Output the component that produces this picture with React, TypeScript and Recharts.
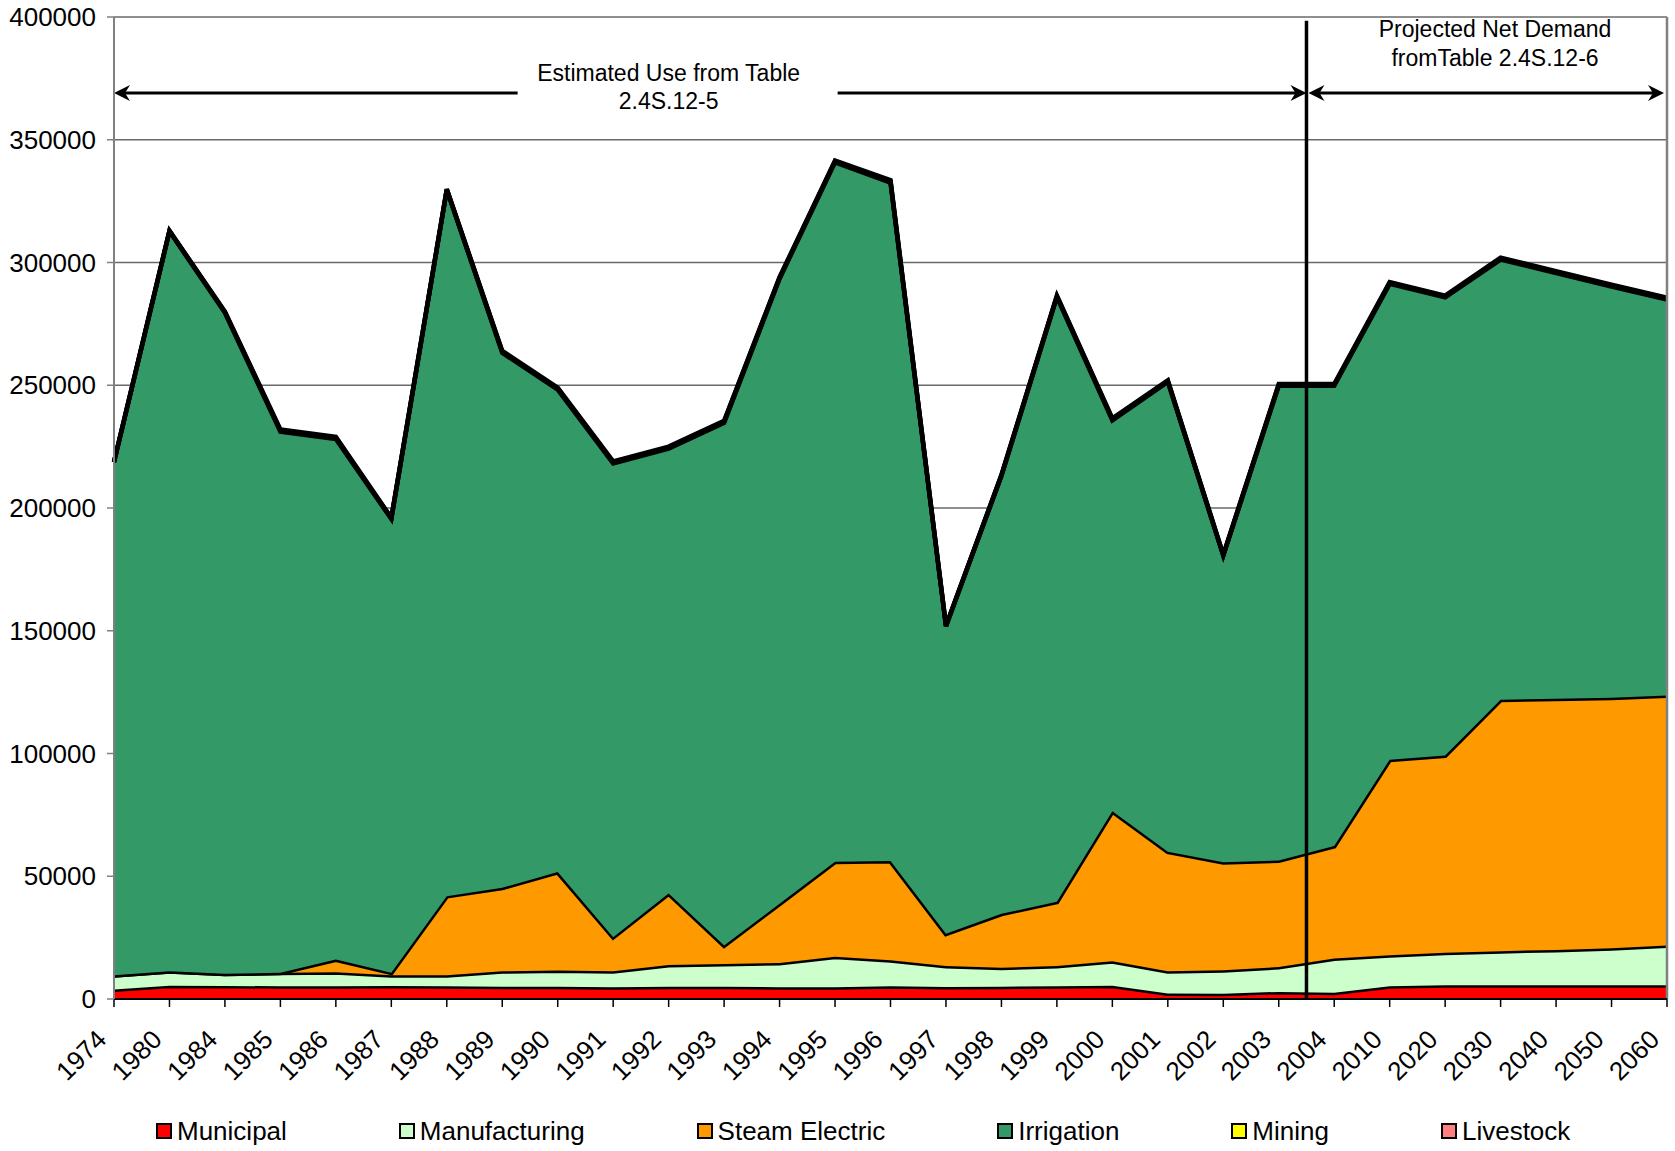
import { AreaChart, Area, XAxis, YAxis, CartesianGrid, ReferenceLine, Legend } from "recharts"

const years = [
  "1974", "1980", "1984", "1985", "1986", "1987", "1988", "1989", "1990", "1991",
  "1992", "1993", "1994", "1995", "1996", "1997", "1998", "1999", "2000", "2001",
  "2002", "2003", "2004", "2010", "2020", "2030", "2040", "2050", "2060",
]

const municipal = [
  3900, 5400, 5300, 5200, 5200, 5300, 5200, 5000, 5000, 4800,
  5000, 5000, 4800, 4800, 5200, 4900, 5000, 5200, 5400, 2200,
  2100, 2900, 2500, 5200, 5600, 5600, 5600, 5600, 5600,
]
const manufacturing = [
  5800, 5900, 5000, 5500, 5700, 4400, 4500, 6300, 6600, 6500,
  8800, 9300, 9900, 12400, 10600, 8500, 7700, 8200, 10000, 9100,
  9600, 10100, 14000, 12600, 13200, 13900, 14400, 15100, 16200,
]
const steamElectric = [
  0, 0, 0, 0, 5200, 1000, 32200, 34000, 40100, 13900,
  29200, 7500, 24100, 38700, 40400, 13200, 22000, 26200, 61100, 48700,
  44000, 43400, 45800, 79700, 80400, 102400, 102300, 102000, 101800,
]
const irrigation = [
  208900, 301400, 269200, 220400, 212000, 184800, 287700, 217900, 196500, 193000,
  181200, 212900, 254600, 284900, 276300, 125200, 178300, 246300, 159200, 191400,
  124900, 193400, 187500, 193800, 186600, 179300, 173400, 167500, 161300,
]
const mining = [
  100, 100, 300, 500, 500, 300, 100, 500, 500, 500,
  500, 500, 400, 400, 500, 100, 300, 400, 500, 300,
  200, 400, 400, 400, 400, 500, 500, 500, 500,
]
const livestock = [
  100, 200, 200, 400, 400, 200, 200, 300, 300, 300,
  300, 300, 200, 300, 500, 100, 200, 200, 300, 300,
  200, 300, 300, 300, 300, 300, 300, 300, 300,
]

const yTicks = [0, 50000, 100000, 150000, 200000, 250000, 300000, 350000, 400000]

const series = [
  { key: "Municipal", color: "#FF0000" },
  { key: "Manufacturing", color: "#CCFFCC" },
  { key: "Steam Electric", color: "#FF9900" },
  { key: "Irrigation", color: "#339966" },
  { key: "Mining", color: "#FFFF00" },
  { key: "Livestock", color: "#FF8080" },
]

const data = years.map((year, i) => ({
  year,
  Municipal: municipal[i],
  Manufacturing: manufacturing[i],
  "Steam Electric": steamElectric[i],
  Irrigation: irrigation[i],
  Mining: mining[i],
  Livestock: livestock[i],
}))

// annotation positions, in category index units
const lastIdx = years.length - 1
const divider = 21.5
const arrowY = 369000
const leftText = ["Estimated Use from Table", "2.4S.12-5"]
const leftTextAt = 10
const rightText = ["Projected Net Demand", "fromTable 2.4S.12-6"]
const rightTextAt = 24.9

const FONT = "'Liberation Sans', Arial, sans-serif"

function head(x: number, y: number, dir: number) {
  return `M${x} ${y} L${x + dir * 16} ${y - 8} L${x + dir * 11} ${y} L${x + dir * 16} ${y + 8} Z`
}

function leftArrow(props: any) {
  const { x1, x2, y1 } = props
  const unit = (x2 - x1) / divider
  const cx = x1 + leftTextAt * unit
  return (
    <g>
      <line x1={x1 + 4} y1={y1} x2={cx - 151} y2={y1} stroke="#000" strokeWidth={3} />
      <line x1={cx + 169} y1={y1} x2={x2 - 4} y2={y1} stroke="#000" strokeWidth={3} />
      <path d={head(x1, y1, 1)} fill="#000" />
      <path d={head(x2, y1, -1)} fill="#000" />
      <text x={cx} y={y1 - 12} textAnchor="middle" fontSize={23} fontFamily={FONT} fill="#000">{leftText[0]}</text>
      <text x={cx} y={y1 + 16} textAnchor="middle" fontSize={23} fontFamily={FONT} fill="#000">{leftText[1]}</text>
    </g>
  )
}

function rightArrow(props: any) {
  const { x1, x2, y1 } = props
  const unit = (x2 - x1) / (lastIdx - divider)
  const cx = x1 + (rightTextAt - divider) * unit
  return (
    <g>
      <line x1={x1 + 6} y1={y1} x2={x2 - 8} y2={y1} stroke="#000" strokeWidth={3} />
      <path d={head(x1 + 2, y1, 1)} fill="#000" />
      <path d={head(x2 - 3, y1, -1)} fill="#000" />
      <text x={cx} y={y1 - 56} textAnchor="middle" fontSize={23} fontFamily={FONT} fill="#000">{rightText[0]}</text>
      <text x={cx} y={y1 - 27} textAnchor="middle" fontSize={23} fontFamily={FONT} fill="#000">{rightText[1]}</text>
    </g>
  )
}

function XTick(props: any) {
  const { x, y, payload } = props
  const ax = x - 6
  const ay = y + 32
  return (
    <text x={ax} y={ay} transform={`rotate(-45 ${ax} ${ay})`} textAnchor="end" fontSize={26} fontFamily={FONT} fill="#000">
      {payload.value}
    </text>
  )
}

function LegendBox() {
  return (
    <div style={{ display: "flex", alignItems: "center", height: 36, paddingLeft: 156, fontFamily: FONT, fontSize: 26 }}>
      {series.map((s) => (
        <div key={s.key} style={{ display: "flex", alignItems: "center", marginRight: 112 }}>
          <span style={{ width: 12, height: 12, border: "2.5px solid #000", background: s.color, display: "inline-block" }} />
          <span style={{ marginLeft: 5, color: "#000", whiteSpace: "nowrap" }}>{s.key}</span>
        </div>
      ))}
    </div>
  )
}

export default function App() {
  return (
    <div style={{ position: "absolute", left: 0, top: 0, width: 1675, height: 1151, background: "#fff" }}>
      <AreaChart width={1675} height={1151} data={data} margin={{ top: 17, right: 8, bottom: 0, left: 0 }}>
        <CartesianGrid vertical={false} stroke="#6a6a6a" strokeWidth={1.5} />
        <XAxis
          dataKey="year"
          height={116}
          interval={0}
          tick={<XTick />}
          tickSize={8}
          axisLine={{ stroke: "#000", strokeWidth: 2 }}
          tickLine={{ stroke: "#000", strokeWidth: 1.5 }}
        />
        <XAxis xAxisId="n" type="number" domain={[0, lastIdx]} hide />
        <YAxis
          width={114}
          domain={[0, 400000]}
          ticks={yTicks}
          interval={0}
          tickSize={7}
          tickMargin={11}
          tick={{ fontSize: 26, fontFamily: FONT, fill: "#000" }}
          axisLine={{ stroke: "#808080", strokeWidth: 2 }}
          tickLine={{ stroke: "#808080", strokeWidth: 1.5 }}
        />
        {series.map((s) => (
          <Area
            key={s.key}
            type="linear"
            dataKey={s.key}
            stackId="1"
            fill={s.color}
            fillOpacity={1}
            stroke="#000"
            strokeWidth={s.key === "Irrigation" || s.key === "Mining" || s.key === "Livestock" ? 4.5 : 5}
            isAnimationActive={false}
          />
        ))}
        <ReferenceLine xAxisId="n" x={lastIdx} stroke="#808080" strokeWidth={2.5} />
        <ReferenceLine
          xAxisId="n"
          segment={[{ x: divider, y: 398500 }, { x: divider, y: 0 }]}
          stroke="#000"
          strokeWidth={3.5}
        />
        <ReferenceLine
          xAxisId="n"
          segment={[{ x: 0, y: arrowY }, { x: divider, y: arrowY }]}
          shape={leftArrow}
        />
        <ReferenceLine
          xAxisId="n"
          segment={[{ x: divider, y: arrowY }, { x: lastIdx, y: arrowY }]}
          shape={rightArrow}
        />
        <Legend verticalAlign="bottom" content={<LegendBox />} wrapperStyle={{ left: 0, top: 1113, width: 1675 }} />
      </AreaChart>
    </div>
  )
}
